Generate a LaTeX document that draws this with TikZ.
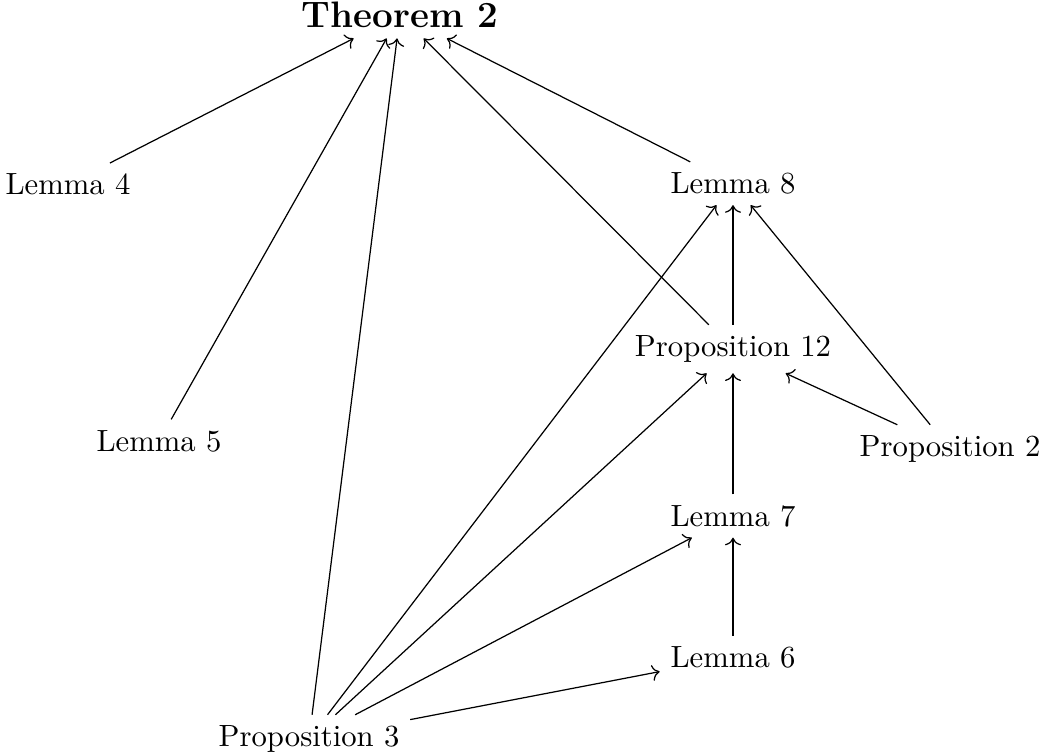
\documentclass[tikz,border=0pt]{standalone}
\usepackage{amsmath,amssymb}
\usepackage{tikz}
\usetikzlibrary{arrows.meta, positioning}

\begin{document}
\begin{tikzpicture}[
  res/.style={inner sep=3.33pt},
  thm/.style={res, font=\large\bfseries},
  >={To[]}
]
\useasboundingbox (0,0) rectangle (11.907,-8.644);
\node[thm] (t2) at (4.58,-0.168) {Theorem 2};
\node[res] (l4) at (0.778,-2.112) {Lemma 4};
\node[res] (l8) at (8.392,-2.101) {Lemma 8};
\node[res] (p12) at (8.392,-3.996) {Proposition 12};
\node[res] (l5) at (1.820,-5.049) {Lemma 5};
\node[res] (p2) at (10.877,-5.141) {Proposition 2};
\node[res] (l7) at (8.392,-5.908) {Lemma 7};
\node[res] (l6) at (8.392,-7.528) {Lemma 6};
\node[res] (p3) at (3.538,-8.461) {Proposition 3};
% into the theorem
\draw[->] (l4) -- (t2);
\draw[->] (l5) -- (t2);
\draw[->] (p3) -- (t2);
\draw[->] (p12) -- (t2);
\draw[->] (l8) -- (t2);
% lemma 8
\draw[->] (p12) -- (l8);
\draw[->] (p2) -- (l8);
\draw[->] (p3) -- (l8);
% proposition 12
\draw[->] (p2) -- (p12);
\draw[->] (l7) -- (p12);
\draw[->] (p3) -- (p12);
% lemma 7 and lemma 6
\draw[->] (p3) -- (l7);
\draw[->] (l6) -- (l7);
\draw[->] (p3) -- (l6);
\end{tikzpicture}
\end{document}
